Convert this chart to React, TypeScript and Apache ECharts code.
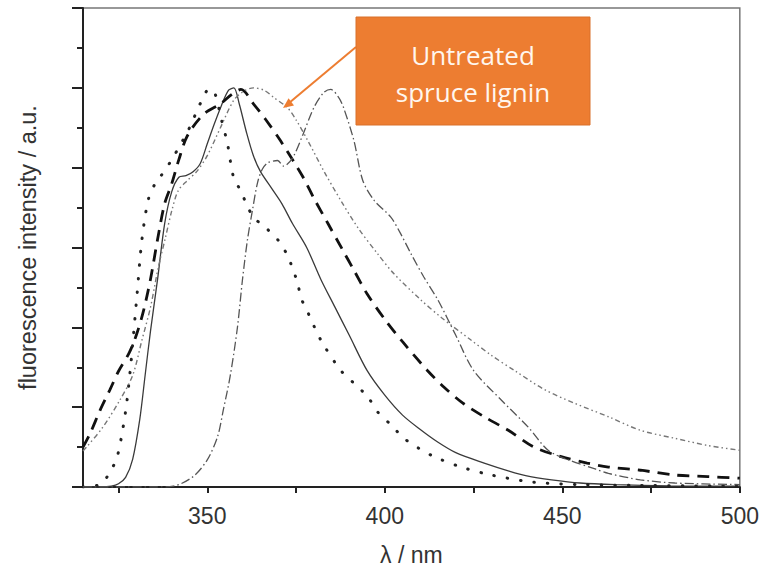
import React, { useEffect, useRef } from "react";
import * as echarts from "echarts";

// wavelength (nm) / normalized intensity pairs
const solidX = [315, 320, 323, 325, 327, 329, 331, 332.5, 334, 336, 338, 340, 342, 344, 346, 348, 350, 352, 354, 356, 357.5, 359, 361, 363, 365, 368, 371, 374, 378, 382, 386, 390, 395, 400, 405, 410, 415, 420, 428, 435, 440, 447, 455, 465, 480, 500];
const solidY = [0, 0, 0.01, 0.04, 0.12, 0.35, 0.85, 1.4, 1.95, 2.6, 3.3, 3.7, 3.88, 3.9, 3.95, 4.05, 4.3, 4.55, 4.78, 4.97, 5.0, 4.8, 4.45, 4.15, 3.95, 3.75, 3.55, 3.3, 3.0, 2.6, 2.25, 1.9, 1.46, 1.15, 0.9, 0.72, 0.56, 0.43, 0.3, 0.2, 0.14, 0.09, 0.05, 0.03, 0.015, 0.01];

const dottedX = [315, 319, 321, 322.6, 324.6, 326.9, 328.3, 330.2, 331.6, 333.4, 335.3, 337, 340, 345, 348, 350.5, 352, 354, 355.7, 357.4, 359.3, 361, 363, 366.4, 370, 372.6, 374, 375.5, 376.3, 378.3, 382, 387.6, 391.3, 395.2, 398, 401.7, 405.4, 409.4, 413.9, 421.5, 430, 442, 455, 470, 500];
const dottedY = [0, 0.02, 0.08, 0.19, 0.37, 0.92, 1.46, 2.4, 3.1, 3.6, 3.8, 3.9, 4.1, 4.5, 4.8, 4.98, 4.95, 4.6, 4.3, 3.88, 3.72, 3.55, 3.38, 3.25, 3.09, 2.9, 2.74, 2.55, 2.38, 2.19, 1.84, 1.46, 1.3, 1.13, 0.94, 0.78, 0.61, 0.49, 0.38, 0.25, 0.15, 0.06, 0.03, 0.02, 0.01];

const dashedX = [315, 317, 319.8, 322.6, 325, 328, 330, 332, 334, 336, 338, 340, 342, 344.4, 349, 353.7, 357, 359.5, 363, 366.5, 370.6, 377, 380, 384, 388, 391.5, 395, 400, 405, 412, 416.7, 422, 428, 434.8, 442, 449.7, 457, 463, 472, 481.7, 491, 500];
const dashedY = [0.5, 0.67, 0.96, 1.22, 1.45, 1.68, 1.9, 2.2, 2.6, 3.1, 3.55, 3.8, 4.1, 4.4, 4.67, 4.8, 4.92, 4.98, 4.8, 4.6, 4.34, 3.88, 3.62, 3.3, 2.98, 2.7, 2.42, 2.1, 1.82, 1.46, 1.25, 1.05, 0.88, 0.71, 0.5, 0.38, 0.3, 0.25, 0.21, 0.15, 0.13, 0.11];

const untreatedX = [315, 316, 320.6, 325.4, 329, 331.6, 334, 336.2, 338.2, 340, 341.8, 344.4, 347, 350, 353.7, 357.4, 360, 363, 366, 368.7, 372.6, 375, 378.3, 382.8, 387.6, 392.4, 398, 402.6, 410, 416, 424, 430, 436.5, 445, 453.4, 463, 472, 481.7, 491, 500];
const untreatedY = [0.45, 0.5, 0.75, 1.09, 1.4, 1.84, 2.25, 2.75, 3.12, 3.46, 3.71, 3.84, 3.95, 4.15, 4.5, 4.84, 4.95, 5.0, 4.97, 4.88, 4.75, 4.6, 4.34, 3.96, 3.59, 3.25, 2.92, 2.67, 2.35, 2.12, 1.85, 1.65, 1.46, 1.22, 1.05, 0.88, 0.71, 0.61, 0.52, 0.46];

const dashDotX = [315, 335, 340.4, 346, 350, 352.9, 354.5, 356.5, 358.5, 359.9, 361.3, 362.7, 364.2, 365.5, 367, 369.8, 371.5, 374, 377, 380, 382.8, 384.8, 387, 388.4, 391.3, 393.8, 397, 401.7, 404.5, 407.4, 411, 415, 420, 425, 432.8, 440.4, 446, 451.7, 459, 463, 472, 481.7, 500];
const dashDotY = [0, 0, 0.01, 0.13, 0.34, 0.63, 0.96, 1.4, 2.0, 2.59, 3.09, 3.46, 3.82, 3.98, 4.06, 4.09, 4.02, 4.12, 4.42, 4.75, 4.94, 4.98, 4.88, 4.75, 4.34, 3.84, 3.59, 3.38, 3.17, 2.92, 2.63, 2.34, 1.9, 1.46, 1.09, 0.75, 0.46, 0.34, 0.23, 0.17, 0.09, 0.05, 0.03];

const xTicks = [325, 350, 375, 400, 425, 450, 475, 500];
const xLabels = [350, 400, 450, 500];

const pairs = (xs: number[], ys: number[]) => xs.map((x, i) => [x, ys[i]]);

export default function App() {
  const ref = useRef<HTMLDivElement>(null);
  useEffect(() => {
    if (!ref.current) return;
    const chart = echarts.init(ref.current, undefined, { renderer: "svg" });
    const font = "Liberation Sans, Arial, Helvetica, sans-serif";
    const mk = (name: string, xs: number[], ys: number[], ls: any) => ({
      name,
      type: "line",
      data: pairs(xs, ys),
      showSymbol: false,
      symbol: "none",
      smooth: 0.3,
      lineStyle: ls,
      z: 3,
    });
    chart.setOption({
      animation: false,
      backgroundColor: "#ffffff",
      grid: {
        left: 83,
        top: 8,
        right: 22,
        bottom: 85,
        show: true,
        borderColor: "#777",
        borderWidth: 1.5,
        backgroundColor: "transparent",
      },
      xAxis: {
        type: "value",
        min: 315,
        max: 500,
        name: "λ / nm",
        nameLocation: "middle",
        nameGap: 56,
        nameTextStyle: { fontSize: 23, color: "#333", fontFamily: font },
        axisLine: { show: true, onZero: false, lineStyle: { color: "#222", width: 2 } },
        axisTick: { show: true, length: 6, customValues: xTicks, lineStyle: { color: "#222", width: 2 } },
        axisLabel: { customValues: xLabels, fontSize: 23, color: "#333", fontFamily: font, margin: 17 },
        splitLine: { show: false },
      },
      yAxis: {
        type: "value",
        min: 0,
        max: 6,
        interval: 1,
        name: "fluorescence intensity / a.u.",
        nameLocation: "middle",
        nameGap: 43,
        nameTextStyle: { fontSize: 23.5, color: "#333", fontFamily: font },
        axisLine: { show: true, lineStyle: { color: "#222", width: 2 } },
        axisTick: { show: true, length: 11, lineStyle: { color: "#222", width: 2 } },
        minorTick: { show: true, splitNumber: 2, length: 6, lineStyle: { color: "#222", width: 2 } },
        axisLabel: { show: false },
        splitLine: { show: false },
      },
      series: [
        mk("solid", solidX, solidY, { color: "#3a3a3a", width: 1.3, type: "solid" }),
        mk("dotted", dottedX, dottedY, { color: "#222", width: 3, type: [0.5, 13], cap: "round" }),
        mk("dashed", dashedX, dashedY, { color: "#111", width: 2.8, type: [12, 8] }),
        mk("Untreated spruce lignin", untreatedX, untreatedY, { color: "#777", width: 1.4, type: [5, 3, 1.5, 3, 1.5, 3] }),
        mk("dash-dot", dashDotX, dashDotY, { color: "#555", width: 1.3, type: [9, 3, 1.5, 3] }),
      ],
      graphic: [
        {
          type: "line",
          shape: { x1: 356, y1: 47, x2: 289, y2: 103 },
          style: { stroke: "#ED7D31", lineWidth: 2 },
          z: 10,
        },
        {
          type: "polygon",
          shape: { points: [[283, 108], [294, 105.5], [288.6, 98.2]] },
          style: { fill: "#ED7D31" },
          z: 10,
        },
        {
          type: "rect",
          shape: { x: 356, y: 17, width: 234, height: 108 },
          style: { fill: "#ED7D31", stroke: "#D9702A", lineWidth: 1 },
          z: 10,
        },
        {
          type: "text",
          x: 473,
          y: 73,
          style: {
            text: "Untreated\nspruce lignin",
            fontSize: 26,
            lineHeight: 37,
            fontFamily: "Open Sans, Lato, sans-serif",
            fill: "#FFF6EE",
            align: "center",
            verticalAlign: "middle",
          },
          z: 11,
        },
      ],
    });
    return () => chart.dispose();
  }, []);
  return <div ref={ref} style={{ width: 762, height: 572, position: "absolute", left: 0, top: 0 }} />;
}
